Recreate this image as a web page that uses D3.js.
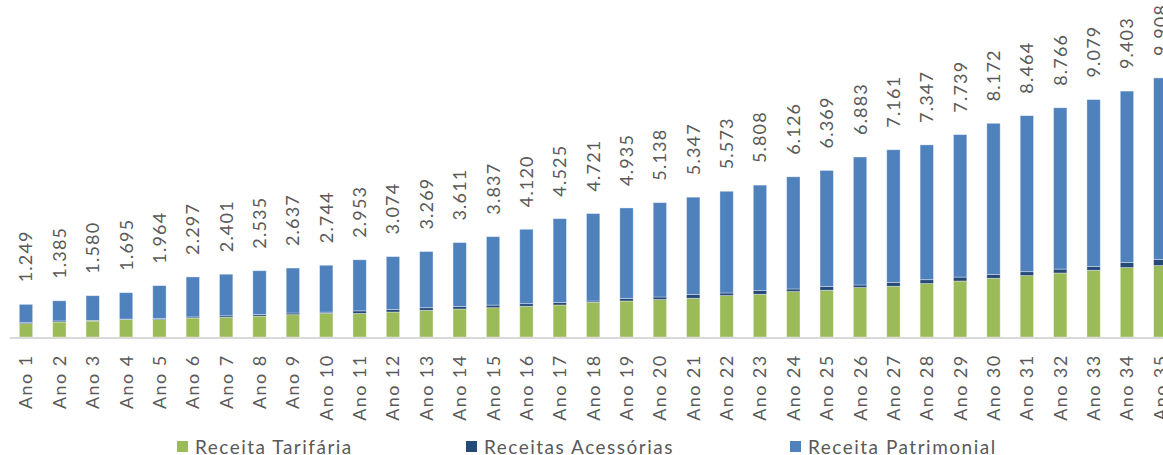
<!DOCTYPE html>
<html>
<head>
<meta charset="utf-8">
<script src="https://cdn.jsdelivr.net/npm/d3@7"></script>
<style>
  html, body { margin: 0; padding: 0; background: #fff; overflow: hidden; }
  svg { display: block; }
  text { font-family: Lato, "Open Sans", sans-serif; fill: #595959; }
</style>
</head>
<body>
<svg id="chart" width="1163" height="455"></svg>
<script>
// Years of the projection
const categories = ["Ano 1","Ano 2","Ano 3","Ano 4","Ano 5","Ano 6","Ano 7","Ano 8","Ano 9","Ano 10",
  "Ano 11","Ano 12","Ano 13","Ano 14","Ano 15","Ano 16","Ano 17","Ano 18","Ano 19","Ano 20",
  "Ano 21","Ano 22","Ano 23","Ano 24","Ano 25","Ano 26","Ano 27","Ano 28","Ano 29","Ano 30",
  "Ano 31","Ano 32","Ano 33","Ano 34","Ano 35"];

// Revenue per source (R$ mil)
const receitaTarifaria = [512,574,612,665,665,727,750,800,853,900,900,956,1020,1070,1120,1175,1224,1327,
  1377,1430,1480,1583,1633,1736,1786,1889,1939,2042,2141,2245,2348,2447,2550,2654,2730];
const receitasAcessorias = [50,40,20,20,40,40,60,60,65,50,100,100,100,100,100,100,100,50,
  100,100,150,100,150,100,150,100,150,150,150,150,150,150,150,200,230];
const receitaPatrimonial = [687,771,948,1010,1259,1530,1591,1675,1719,1794,1953,2018,2149,2441,2617,2845,3201,3344,
  3458,3608,3717,3890,4025,4290,4433,4894,5072,5155,5448,5777,5966,6169,6379,6549,6948];

const seriesNames = ["Receita Tarifária", "Receitas Acessórias", "Receita Patrimonial"];
const seriesColors = ["#9BBB59", "#264A78", "#4F81BD"];

const rows = categories.map((c, i) => ({
  cat: c,
  "Receita Tarifária": receitaTarifaria[i],
  "Receitas Acessórias": receitasAcessorias[i],
  "Receita Patrimonial": receitaPatrimonial[i]
}));

const svg = d3.select("#chart");
const baseY = 337;

const x = d3.scaleBand()
  .domain(categories)
  .range([9.3, 1177])
  .paddingInner(0.6)
  .paddingOuter(0.3);

const y = d3.scaleLinear()
  .domain([0, 10000])
  .range([baseY, baseY - 261.5]);

const color = d3.scaleOrdinal().domain(seriesNames).range(seriesColors);

const stacked = d3.stack().keys(seriesNames)(rows);

// Stacked columns
svg.append("g")
  .selectAll("g")
  .data(stacked)
  .join("g")
    .attr("fill", d => color(d.key))
  .selectAll("rect")
  .data(d => d)
  .join("rect")
    .attr("x", d => x(d.data.cat))
    .attr("y", d => y(d[1]))
    .attr("width", x.bandwidth())
    .attr("height", d => y(d[0]) - y(d[1]))
    .attr("stroke", "rgba(255,255,255,0.45)")
    .attr("stroke-width", 0.8);

// Category axis
const axis = svg.append("g")
  .attr("transform", `translate(0,${baseY + 0.5})`)
  .call(d3.axisBottom(x).tickSize(0).tickSizeOuter(0));
axis.select(".domain").attr("stroke", "#D9D9D9").attr("stroke-width", 2);
axis.selectAll(".tick text")
  .attr("font-family", "Lato, sans-serif")
  .attr("font-size", 18)
  .attr("fill", "#595959")
  .attr("letter-spacing", 1.4)
  .attr("text-anchor", "end")
  .attr("transform", "rotate(-90)")
  .attr("x", -17)
  .attr("y", 0)
  .attr("dy", "0.36em");

// Total labels above each column
const fmt = d3.formatLocale({ decimal: ",", thousands: ".", grouping: [3], currency: ["R$", ""] }).format(",d");
svg.append("g")
  .selectAll("text")
  .data(rows)
  .join("text")
    .attr("transform", d => {
      const total = d3.sum(seriesNames, k => d[k]);
      const cx = x(d.cat) + x.bandwidth() / 2;
      return `translate(${cx},${y(total) - 22}) rotate(-90)`;
    })
    .attr("dy", "0.36em")
    .attr("font-size", 18)
    .attr("letter-spacing", 1.2)
    .text(d => fmt(d3.sum(seriesNames, k => d[k])));

// Legend
const legendX = [177, 466, 790];
const legend = svg.append("g")
  .selectAll("g")
  .data(seriesNames)
  .join("g")
    .attr("transform", (d, i) => `translate(${legendX[i]},441)`);
legend.append("rect")
  .attr("width", 11).attr("height", 11)
  .attr("fill", d => color(d));
legend.append("text")
  .attr("x", 18).attr("y", 13)
  .attr("font-size", 19)
  .attr("letter-spacing", 1.5)
  .text(d => d);
</script>
</body>
</html>
